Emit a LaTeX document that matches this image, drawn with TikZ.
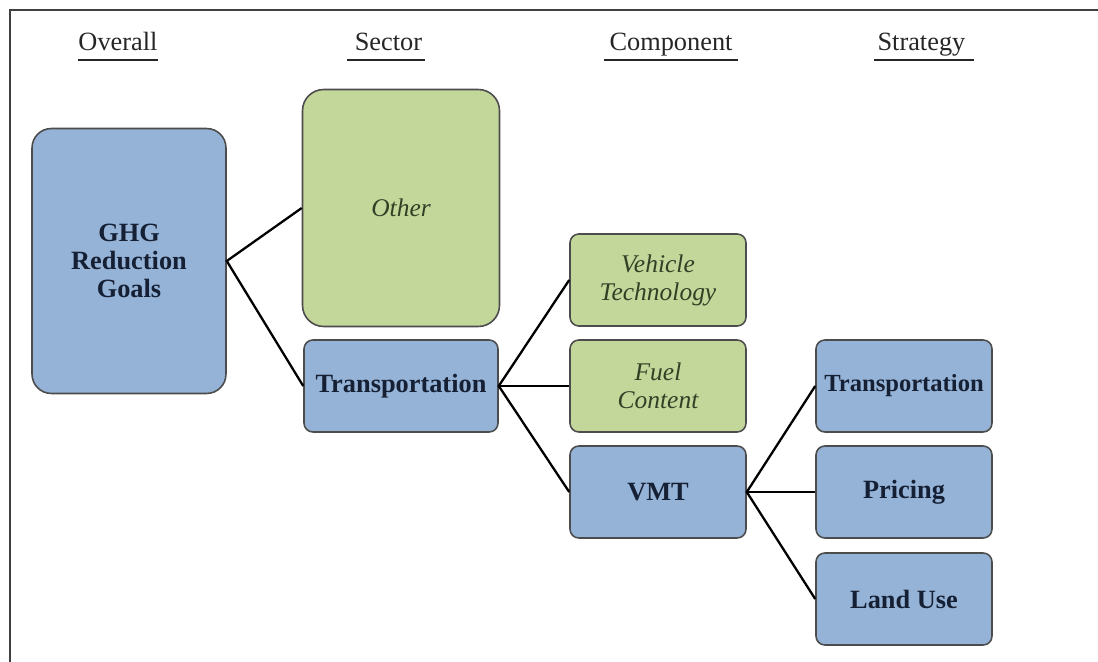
\documentclass[tikz,border=0pt]{standalone}
\usepackage{fontspec}
\setmainfont{Liberation Serif}
\usepackage{xcolor}

\definecolor{boxblue}{RGB}{149,179,215}
\definecolor{boxgreen}{RGB}{196,215,155}
\definecolor{inkblue}{RGB}{22,32,52}
\definecolor{inkgreen}{RGB}{50,64,38}

\tikzset{
	colhead/.style={font=\fontsize{15}{17}\selectfont, inner xsep=0pt, inner ysep=1pt,
		text height=11pt, text depth=4pt, text=black!85},
	bluebox/.style={draw=black!70, line width=0.9pt, fill=boxblue, rounded corners=5pt, align=center,
		inner xsep=1pt, font=\fontsize{15}{16}\selectfont\bfseries, text=inkblue,
		minimum width=3.52cm, minimum height=1.84cm},
	greenbox/.style={draw=black!70, line width=0.9pt, fill=boxgreen, rounded corners=5pt, align=center,
		inner xsep=1pt, font=\fontsize{14.5}{16}\selectfont\itshape, text=inkgreen,
		minimum width=3.52cm, minimum height=1.84cm},
	link/.style={line width=1.3pt, black}
}

\begin{document}
\begin{tikzpicture}[x=0.02cm, y=-0.02cm]
	\useasboundingbox (0,0) rectangle (1098,662);
	
	% Frame - top and left only
	\draw[line width=0.9pt, black!75] (10,662) -- (10,10) -- (1098,10);
	
	% Column headings
	\node[colhead, minimum width=1.56cm, anchor=base] (hoverall) at (118,51) {Overall};
	\node[colhead, minimum width=1.56cm, anchor=base] (hsector) at (386,51) {\hspace{0.1cm}Sector};
	\node[colhead, minimum width=2.68cm, anchor=base] (hcomp) at (671,51) {Component};
	\node[colhead, minimum width=1.98cm, anchor=base, text width=1.98cm, align=left] (hstrat) at (924,51) {\hspace{0.06cm}Strategy};
	\foreach \h in {hoverall,hsector,hcomp,hstrat}
		\draw[line width=0.8pt, black!85] (\h.south west) -- (\h.south east);
	
	% Overall
	\node[bluebox, minimum width=3.88cm, minimum height=5.3cm, rounded corners=11pt] (ghg) at (129,261) {GHG\\Reduction\\Goals};
	
	% Sector
	\node[greenbox, minimum width=3.94cm, minimum height=4.74cm, rounded corners=12pt] (other) at (401,208) {Other};
	\node[bluebox, minimum width=3.88cm] (trans) at (401,386) {Transportation};
	
	% Component
	\node[greenbox] (vehtech) at (658,280) {Vehicle\\Technology};
	\node[greenbox] (fuel) at (658,386) {Fuel\\Content};
	\node[bluebox] (vmt) at (658,492) {VMT};
	
	% Strategy
	\node[bluebox, font=\fontsize{14}{16}\selectfont\bfseries] (stransp) at (904,386) {Transportation};
	\node[bluebox] (pricing) at (904,492) {Pricing};
	\node[bluebox] (landuse) at (904,599) {Land Use};
	
	% Tree links
	\draw[link] (other.west) -- (ghg.east) -- (trans.west);
	\draw[link] (vehtech.west) -- (trans.east) -- (vmt.west);
	\draw[link] (trans.east) -- (fuel.west);
	\draw[link] (stransp.west) -- (vmt.east) -- (landuse.west);
	\draw[link] (vmt.east) -- (pricing.west);
\end{tikzpicture}
\end{document}
